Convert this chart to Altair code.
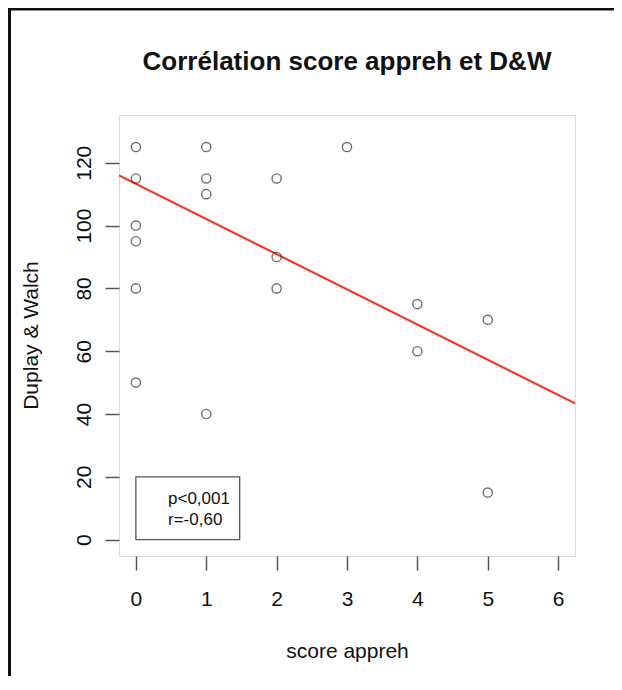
import altair as alt
import pandas as pd

# ---- data ----
score = [0, 0, 0, 0, 0, 0, 1, 1, 1, 1, 2, 2, 2, 3, 4, 4, 5, 5]
dw = [125, 115, 100, 95, 80, 50, 125, 115, 110, 40, 115, 90, 80, 125, 75, 60, 70, 15]

fit_intercept = 113.3
fit_slope = -11.2

x_domain = [-0.24, 6.24]
y_domain = [-5.2, 135.2]
x_ticks = [0, 1, 2, 3, 4, 5, 6]
y_ticks = [0, 20, 40, 60, 80, 100, 120]

legend_lines = ["p<0,001", "r=-0,60"]
legend_box = {"x": [0.0], "x2": [1.475], "y": [0.0], "y2": [20.0]}

title_text = "Corrélation score appreh et D&W"
x_title = "score appreh"
y_title = "Duplay & Walch"

FONT = "Liberation Sans"
W, H = 456, 441
PAD = {"left": 111, "top": 107, "right": 39, "bottom": 120}

pts = pd.DataFrame({"score": score, "dw": dw})
line_df = pd.DataFrame({"score": x_domain,
                        "dw": [fit_intercept + fit_slope * v for v in x_domain]})
box_df = pd.DataFrame(legend_box)
one = pd.DataFrame({"a": [0]})

xs = alt.Scale(domain=x_domain, nice=False, zero=False)
ys = alt.Scale(domain=y_domain, nice=False, zero=False)

xaxis = alt.Axis(values=x_ticks, format="d", title=x_title, grid=False, domain=False,
                 tickSize=14, tickColor="#555", tickWidth=1.5,
                 labelFontSize=21, labelFont=FONT, labelColor="#111",
                 labelPadding=18, labelBaseline="top", labelFlush=False,
                 titleFontSize=21, titleFont=FONT, titleFontWeight="normal",
                 titleColor="#111", titleX=228, titleY=95,
                 titleBaseline="middle", titleAlign="center")
yaxis = alt.Axis(values=y_ticks, format="d", title=y_title, grid=False, domain=False,
                 tickSize=14, tickColor="#555", tickWidth=1.5,
                 labelFontSize=21, labelFont=FONT, labelColor="#111",
                 labelAngle=270, labelAlign="center", labelBaseline="bottom",
                 labelPadding=11, labelFlush=False,
                 titleFontSize=21, titleFont=FONT, titleFontWeight="normal",
                 titleColor="#111", titleAngle=270, titleX=-88, titleY=220,
                 titleBaseline="middle", titleAlign="center")

X = lambda f: alt.X(f, scale=xs, axis=xaxis)
Y = lambda f: alt.Y(f, scale=ys, axis=yaxis)

points = alt.Chart(pts).mark_point(shape="circle", filled=False, size=85,
                                   stroke="#333", strokeWidth=1.4).encode(
    x=X("score:Q"), y=Y("dw:Q"))

fit = alt.Chart(line_df).mark_line(color="#ff2a1a", strokeWidth=2, clip=True).encode(
    x=X("score:Q"), y=Y("dw:Q"))

box = alt.Chart(box_df).mark_rect(filled=False, stroke="#555", strokeWidth=1.3).encode(
    x=X("x:Q"), x2="x2:Q", y=Y("y:Q"), y2="y2:Q")

leg1 = alt.Chart(one).mark_text(font=FONT, fontSize=17, align="left", baseline="middle",
                                color="#111", text=legend_lines[0]).encode(
    x=alt.value(49), y=alt.value(384))
leg2 = alt.Chart(one).mark_text(font=FONT, fontSize=17, align="left", baseline="middle",
                                color="#111", text=legend_lines[1]).encode(
    x=alt.value(49), y=alt.value(405))

title = alt.Chart(one).mark_text(font=FONT, fontSize=26, fontWeight="bold", align="center",
                                 baseline="middle", color="#111", text=title_text).encode(
    x=alt.value(W / 2), y=alt.value(-53))

frame_top = alt.Chart(one).mark_rule(color="#111", strokeWidth=3).encode(
    x=alt.value(-111), x2=alt.value(520), y=alt.value(-106))
frame_left = alt.Chart(one).mark_rule(color="#111", strokeWidth=3).encode(
    x=alt.value(-109.5), y=alt.value(-107), y2=alt.value(600))

chart = alt.layer(box, fit, points, leg1, leg2, title, frame_top, frame_left).properties(
    width=W, height=H,
    padding=PAD,
    autosize=alt.AutoSizeParams(type="none"),
).configure_view(stroke="#666", strokeWidth=1.5).configure(background="white")

chart.save("out.html", embed_options={"renderer": "svg", "actions": False})
